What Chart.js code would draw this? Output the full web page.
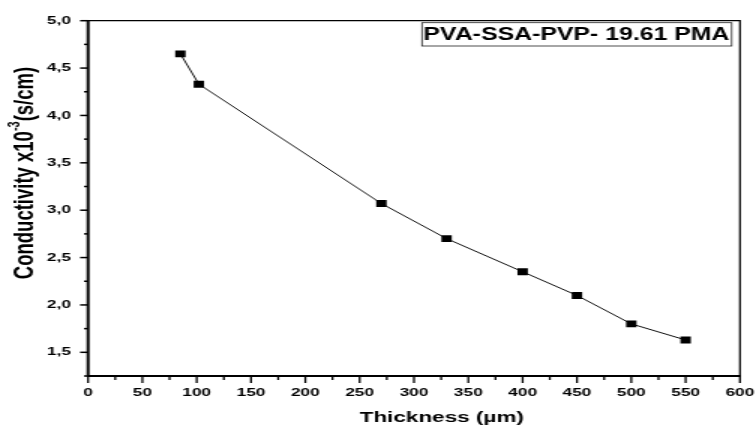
<!DOCTYPE html>
<html>
<head>
<meta charset="utf-8">
<script src="https://cdn.jsdelivr.net/npm/chart.js@4/dist/chart.umd.min.js"></script>
<style>
  html, body { margin: 0; padding: 0; background: #fff; overflow: hidden; }
  /* the original export is stretched sideways, so the canvas is too */
  #chart { display: block; width: 504px; height: 427px; transform: scaleX(1.5); transform-origin: 0 0; }
</style>
</head>
<body>
<canvas id="chart" width="504" height="427"></canvas>
<script>
// data
const thickness = [85, 102, 270, 330, 400, 450, 500, 550];
const conductivity = [4.65, 4.33, 3.07, 2.70, 2.35, 2.10, 1.80, 1.63];
const xTickLabels = [0, 50, 100, 150, 200, 250, 300, 350, 400, 450, 500, 550, 600];
const yTickLabels = [1.5, 2.0, 2.5, 3.0, 3.5, 4.0, 4.5, 5.0];
const seriesName = 'PVA-SSA-PVP- 19.61 PMA';
const xTitle = 'Thickness (µm)';

const FONT = '"Liberation Sans", Arial, sans-serif';

function isMajor(list, v) {
    return list.some(t => Math.abs(t - v) < 1e-6);
}

// frame, minor/major ticks, axis titles and the boxed label
const decorations = {
    id: 'decorations',
    afterDraw(chart) {
        const ctx = chart.ctx;
        const a = chart.chartArea;
        const xs = chart.scales.x;
        const ys = chart.scales.y;
        ctx.save();
        ctx.strokeStyle = '#000';

        // ticks
        ctx.lineWidth = 1.3;
        for (let v = 0; v <= 600; v += 25) {
            const px = xs.getPixelForValue(v);
            const len = isMajor(xTickLabels, v) ? 7 : 4;
            ctx.beginPath();
            ctx.moveTo(px, a.bottom);
            ctx.lineTo(px, a.bottom + len);
            ctx.stroke();
        }
        ctx.lineWidth = 1.5;
        for (let v = 1.25; v <= 5.001; v += 0.25) {
            const py = ys.getPixelForValue(v);
            const len = isMajor(yTickLabels, v) ? 5.3 : 2.7;
            ctx.beginPath();
            ctx.moveTo(a.left - len, py);
            ctx.lineTo(a.left, py);
            ctx.stroke();
        }

        // frame
        ctx.lineWidth = 1.2;
        ctx.beginPath();
        ctx.moveTo(a.left, a.top);
        ctx.lineTo(a.right, a.top);
        ctx.lineTo(a.right, a.bottom);
        ctx.stroke();
        ctx.lineWidth = 2;
        ctx.beginPath();
        ctx.moveTo(a.left, a.top - 0.6);
        ctx.lineTo(a.left, a.bottom);
        ctx.lineTo(a.right + 0.6, a.bottom);
        ctx.stroke();

        ctx.fillStyle = '#000';

        // x axis title (Origin puts it right of centre)
        ctx.font = 'bold 15px ' + FONT;
        ctx.textAlign = 'center';
        ctx.textBaseline = 'middle';
        ctx.fillText(xTitle, 294.5, 418);

        // y axis title
        ctx.translate(17.3, 173);
        ctx.rotate(-Math.PI / 2);
        const big = 'bold 18.5px ' + FONT;
        const small = 'bold 11px ' + FONT;
        const p1 = 'Conductivity x10', p2 = '-3', p3 = '(s/cm)';
        ctx.font = big;
        const w1 = ctx.measureText(p1).width, w3 = ctx.measureText(p3).width;
        ctx.font = small;
        const w2 = ctx.measureText(p2).width;
        let x0 = -(w1 + w2 + w3) / 2;
        ctx.textAlign = 'left';
        ctx.font = big;
        ctx.fillText(p1, x0, 0);
        ctx.font = small;
        ctx.fillText(p2, x0 + w1, -7);
        ctx.font = big;
        ctx.fillText(p3, x0 + w1 + w2, 0);
        ctx.restore();

        // boxed series label
        ctx.save();
        const bx = 281.3, by = 22.7, bw = 206.5, bh = 23.3;
        ctx.strokeStyle = '#222';
        ctx.lineWidth = 0.8;
        ctx.strokeRect(bx, by, bw, bh);
        ctx.font = 'bold 18px ' + FONT;
        const tw = ctx.measureText(seriesName).width;
        const sx = 204 / tw;
        ctx.translate(bx + 1, by + bh / 2 + 0.5);
        ctx.scale(sx, 1);
        ctx.fillStyle = '#000';
        ctx.textBaseline = 'middle';
        ctx.fillText(seriesName, 0, 0);
        ctx.restore();
    }
};

const points = thickness.map((t, i) => ({ x: t, y: conductivity[i] }));

new Chart(document.getElementById('chart'), {
    type: 'line',
    data: {
        datasets: [{
            label: seriesName,
            data: points,
            borderColor: '#111',
            borderWidth: 1,
            tension: 0,
            pointStyle: 'rect',
            pointRadius: 4.9,
            pointBackgroundColor: '#000',
            pointBorderColor: '#000',
            pointBorderWidth: 0
        }]
    },
    options: {
        responsive: false,
        animation: false,
        devicePixelRatio: 1,
        layout: { padding: { top: 20.7, right: 10.7, left: 0, bottom: 0 } },
        plugins: {
            legend: { display: false },
            tooltip: { enabled: false }
        },
        scales: {
            x: {
                type: 'linear',
                min: 0,
                max: 600,
                grid: { display: false, drawTicks: false },
                border: { display: false },
                ticks: {
                    stepSize: 25,
                    autoSkip: false,
                    maxRotation: 0,
                    padding: 10,
                    color: '#000',
                    font: { family: FONT, size: 11.5, weight: 'bold' },
                    callback: v => isMajor(xTickLabels, v) ? String(v) : ''
                },
                afterFit(scale) {
                    scale.height = 51;
                    scale.paddingLeft = 0;
                    scale.paddingRight = 0;
                }
            },
            y: {
                min: 1.25,
                max: 5.0,
                grid: { display: false, drawTicks: false },
                border: { display: false },
                ticks: {
                    stepSize: 0.25,
                    autoSkip: false,
                    padding: 11.4,
                    color: '#000',
                    font: { family: FONT, size: 11.5, weight: 'bold' },
                    callback: v => isMajor(yTickLabels, v) ? v.toFixed(1).replace('.', ',') : ''
                },
                afterFit(scale) {
                    scale.width = 58.7;
                    scale.paddingTop = 0;
                    scale.paddingBottom = 0;
                }
            }
        }
    },
    plugins: [decorations]
});
</script>
</body>
</html>
